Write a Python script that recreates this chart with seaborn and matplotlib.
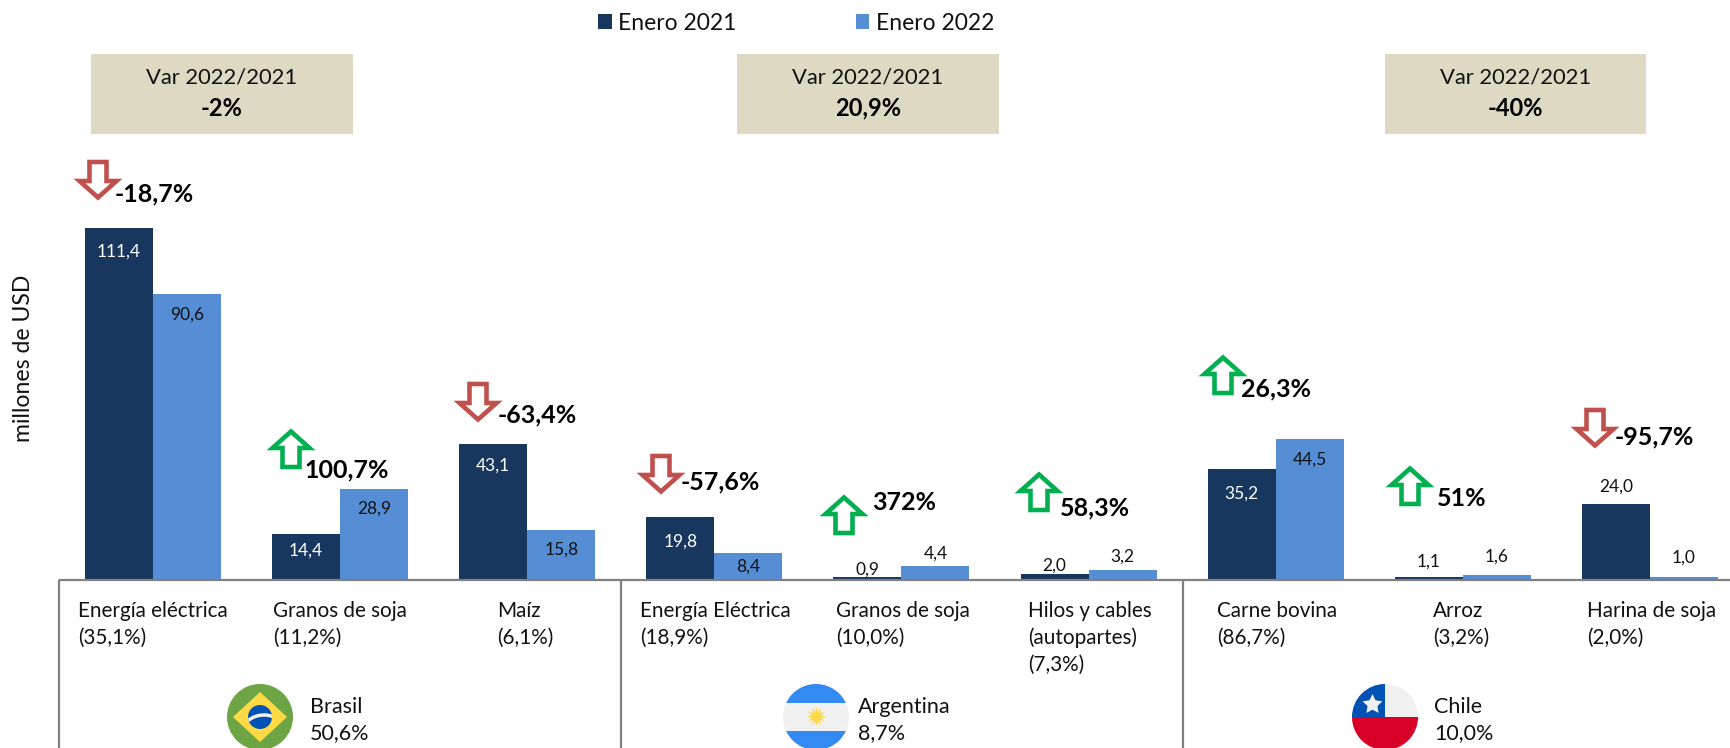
import matplotlib
matplotlib.use("Agg")
import matplotlib.pyplot as plt
import matplotlib.patches as mpatches
import matplotlib.transforms as mtransforms
import numpy as np
import pandas as pd
import seaborn as sns

# values
productos = ["Energía eléctrica\n(35,1%)", "Granos de soja\n(11,2%)", "Maíz\n(6,1%)",
             "Energía Eléctrica\n(18,9%)", "Granos de soja\n(10,0%)", "Hilos y cables\n(autopartes)\n(7,3%)",
             "Carne bovina\n(86,7%)", "Arroz\n(3,2%)", "Harina de soja\n(2,0%)"]
enero_2021 = [111.4, 14.4, 43.1, 19.8, 0.9, 2.0, 35.2, 1.1, 24.0]
enero_2022 = [90.6, 28.9, 15.8, 8.4, 4.4, 3.2, 44.5, 1.6, 1.0]
variaciones = ["-18,7%", "100,7%", "-63,4%", "-57,6%", "372%", "58,3%", "26,3%", "51%", "-95,7%"]
suben = [False, True, False, False, True, True, True, True, False]
paises = ["Brasil\n50,6%", "Argentina\n8,7%", "Chile\n10,0%"]
var_pais = ["-2%", "20,9%", "-40%"]

# layout in reference pixels
W, H = 1731, 748
BASE_Y = 580
LEFT_X = 59.5
CAT_W = 187.1
PX_PER_UNIT = 3.16
label_x = [78, 273, 497, 640, 836, 1028, 1217, 1433, 1587]
# pixel offset of value label centre from the bar top, negative is inside the bar
offs_2021 = [-24, -16, -22, -24, 8, 8, -25, 15, 18]
offs_2022 = [-21, -20, -20, -13, 12, 13, -20, 18, 19]
arrow_pos = [(98, 160), (291, 429), (478, 382), (661, 454), (844, 495),
             (1039, 472), (1223, 355), (1410, 466), (1595, 408)]
var_text_pos = [(115, 194), (304, 470), (498, 415), (681, 482), (872, 502),
                (1060, 508), (1241, 389), (1437, 498), (1615, 437)]
box_x = [(91, 353), (737, 999), (1385, 1646)]
dividers = [59, 621, 1183]
flag_x = [260, 816, 1385]
pais_x = [310, 858, 1434]

DARK = "#17375E"
LIGHT = "#558ED5"
INK = "#111111"
GREY = "#808080"

sns.set_theme(style="white")
plt.rcParams["font.family"] = ["Lato", "DejaVu Sans"]

df = pd.DataFrame({
    "producto": productos * 2,
    "valor": enero_2021 + enero_2022,
    "periodo": ["Enero 2021"] * 9 + ["Enero 2022"] * 9,
})

fig = plt.figure(figsize=(W / 100, H / 100), dpi=100)
ax = fig.add_axes([LEFT_X / W, (H - BASE_Y) / H, (W - LEFT_X) / W, BASE_Y / H])
ax.patch.set_alpha(0)
sns.barplot(data=df, x="producto", y="valor", hue="periodo", palette=[DARK, LIGHT],
            width=0.727, gap=0, saturation=1, errorbar=None, linewidth=0, ax=ax)
ax.set_xlim(-0.5, -0.5 + (W - LEFT_X) / CAT_W)
ax.set_ylim(0, BASE_Y / PX_PER_UNIT)
ax.set_xticks(range(9))
ax.set_xticklabels([])
ax.set_yticks([])
ax.set_xlabel("")
ax.set_ylabel("")
ax.tick_params(length=0)
for s in ["top", "left", "right"]:
    ax.spines[s].set_visible(False)
ax.spines["bottom"].set_color(GREY)
ax.spines["bottom"].set_linewidth(1.6)

# y down pixel coordinates, same as the reference image
px = mtransforms.Affine2D().scale(1, -1).translate(0, H)

# value labels
for cont, vals, offs, inner in [(ax.containers[0], enero_2021, offs_2021, "white"),
                                (ax.containers[1], enero_2022, offs_2022, INK)]:
    for bar, v, off in zip(cont, vals, offs):
        ax.annotate(f"{v:.1f}".replace(".", ","),
                    (bar.get_x() + bar.get_width() / 2, v),
                    xytext=(0, off * 0.72), textcoords="offset points",
                    ha="center", va="center", fontsize=12.5,
                    color=inner if off < 0 else INK)

# legend
handles, labels = ax.get_legend_handles_labels()
ax.legend(handles, labels, ncol=2, frameon=False, loc="center left",
          bbox_to_anchor=(598, 23), bbox_transform=px, fontsize=16.5,
          labelcolor=INK, handlelength=0.59, handleheight=0.59, handletextpad=0.29,
          columnspacing=5.2, borderpad=0, borderaxespad=0)

# product labels under the axis
for x, txt in zip(label_x, productos):
    ax.text(x, 601, txt, transform=px, ha="left", va="top", fontsize=14.9,
            color=INK, linespacing=1.4, clip_on=False)

# dividers
for x in dividers:
    ax.plot([x, x], [BASE_Y, H], transform=px, color=GREY, lw=1.6, clip_on=False, solid_capstyle="butt")

# variation boxes
for (x0, x1), txt in zip(box_x, var_pais):
    ax.add_patch(mpatches.Rectangle((x0, 54), x1 - x0, 80, transform=px, color="#DDD9C3", lw=0, clip_on=False))
    mid = (x0 + x1) / 2
    ax.text(mid, 78, "Var 2022/2021", transform=px, ha="center", va="center", fontsize=15.8, color=INK)
    ax.text(mid, 108, txt, transform=px, ha="center", va="center", fontsize=17, color="black", fontweight="bold")


def block_arrow(cx, top, up):
    # outline arrow, centreline of the stroke
    xs = np.array([-8.5, 8.5, 8.5, 18.5, 0, -18.5, -8.5])
    ys = np.array([2, 2, 21, 21, 37.5, 21, 21])
    if up:
        ys = 40 - ys
    pts = np.column_stack([cx + xs, top + ys])
    color = "#00B050" if up else "#C0504D"
    ax.add_patch(mpatches.Polygon(pts, closed=True, transform=px, facecolor="white",
                                  edgecolor=color, lw=3.3, clip_on=False, joinstyle="miter"))


for (cx, top), up, (tx, ty), txt in zip(arrow_pos, suben, var_text_pos, variaciones):
    block_arrow(cx, top, up)
    ax.text(tx, ty, txt, transform=px, ha="left", va="center", fontsize=18,
            fontweight="bold", color="black", clip_on=False)

# axis title
ax.text(24, 358, "millones de USD", transform=px, rotation=90, ha="center", va="center",
        fontsize=16.6, color=INK, clip_on=False)

# countries
for x, txt in zip(pais_x, paises):
    ax.text(x, 720, txt, transform=px, ha="left", va="center", fontsize=15.5,
            color=INK, linespacing=1.36, clip_on=False)

R = 33
FY = 717


def flag_disc(cx, color):
    disc = mpatches.Ellipse((cx, FY), 2 * R, 2 * R, transform=px, facecolor=color, lw=0, clip_on=False)
    ax.add_patch(disc)
    return disc


def clipped(patch, disc):
    ax.add_patch(patch)
    patch.set_clip_box(fig.bbox)
    patch.set_clip_path(disc)
    return patch


# Brasil
cx = flag_x[0]
disc = flag_disc(cx, "#6DA544")
ax.add_patch(mpatches.Polygon([(cx - 27, FY), (cx, FY - 25), (cx + 27, FY), (cx, FY + 25)], transform=px,
                              facecolor="#FFDA44", lw=0, clip_on=False))
inner = mpatches.Ellipse((cx, FY), 24, 24, transform=px, facecolor="#0052B4", lw=0, clip_on=False)
ax.add_patch(inner)
band = mpatches.Arc((cx + 4, FY + 16), 44, 36, theta1=180, theta2=360, transform=px,
                    color="#F0F0F0", lw=2.5)
clipped(band, inner)

# Argentina
cx = flag_x[1]
disc = flag_disc(cx, "#F0F0F0")
clipped(mpatches.Rectangle((cx - R, FY - R), 2 * R, 19, transform=px, facecolor="#338AF3", lw=0), disc)
clipped(mpatches.Rectangle((cx - R, FY + 14), 2 * R, 19, transform=px, facecolor="#338AF3", lw=0), disc)
ax.plot([cx], [FY - 1], transform=px, marker=(12, 1, 0), ms=14, color="#FFDA44", mew=0, clip_on=False)

# Chile
cx = flag_x[2]
disc = flag_disc(cx, "#F0F0F0")
clipped(mpatches.Rectangle((cx - R, FY), 2 * R, R, transform=px, facecolor="#D80027", lw=0), disc)
clipped(mpatches.Rectangle((cx - R, FY - R), R, R, transform=px, facecolor="#0052B4", lw=0), disc)
ax.plot([cx - 13], [FY - 13], transform=px, marker=(5, 1, 0), ms=15, color="#F0F0F0", mew=0, clip_on=False)

fig.savefig("out.png", dpi=100)
